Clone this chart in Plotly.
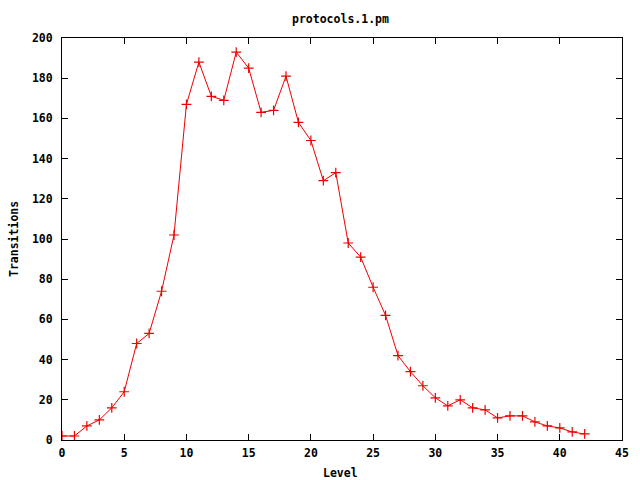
import plotly.graph_objects as go

levels = list(range(0, 43))
transitions = [2, 2, 7, 10, 16, 24, 48, 53, 74, 102,
               167, 188, 171, 169, 193, 185, 163, 164, 181, 158,
               149, 129, 133, 98, 91, 76, 62, 42, 34, 27,
               21, 17, 20, 16, 15, 11, 12, 12, 9, 7,
               6, 4, 3]
x_ticks = [0, 5, 10, 15, 20, 25, 30, 35, 40, 45]
y_ticks = [0, 20, 40, 60, 80, 100, 120, 140, 160, 180, 200]

FONT = "DejaVu Sans Mono"
tfont = dict(family=FONT, size=11.5, color="black", weight="bold")

fig = go.Figure()
fig.add_trace(go.Scatter(
    x=levels, y=transitions, mode="lines+markers",
    line=dict(color="#ee0000", width=1),
    marker=dict(symbol="cross-thin", size=7, line=dict(color="#ee0000", width=1.2),
                color="#ee0000"),
    cliponaxis=True,
))

axis_common = dict(
    showgrid=False, zeroline=False, showline=True, linecolor="black", linewidth=1,
    mirror="ticks", ticks="inside", ticklen=6, tickcolor="black", tickwidth=1,
    tickfont=tfont, automargin=False,
)

L, R, T, B = 62, 18, 38, 40
pw, ph = 640 - L - R, 480 - T - B

def px_x(p):
    return (p - L) / pw

def px_y(p):
    return (480 - B - p) / ph

fig.update_layout(
    width=640, height=480,
    margin=dict(l=L, r=R, t=T, b=B),
    paper_bgcolor="white", plot_bgcolor="white",
    showlegend=False,
    xaxis=dict(range=[0, 45], tickvals=x_ticks, ticklabelstandoff=2, **axis_common),
    yaxis=dict(range=[0, 200], tickvals=y_ticks, ticklabelstandoff=6, **axis_common),
    annotations=[
        dict(text="protocols.1.pm", x=px_x(340), y=px_y(19), xref="paper", yref="paper",
             showarrow=False, font=tfont, xanchor="center", yanchor="middle"),
        dict(text="Level", x=px_x(340), y=px_y(473), xref="paper", yref="paper",
             showarrow=False, font=tfont, xanchor="center", yanchor="middle"),
        dict(text="Transitions", x=px_x(14), y=0.5, xref="paper", yref="paper",
             showarrow=False, font=tfont, xanchor="center", yanchor="middle", textangle=-90),
    ],
)

fig.write_html("out.html", config={"displayModeBar": False},
               post_script="document.body.style.margin='0';document.body.style.overflow='hidden';")
